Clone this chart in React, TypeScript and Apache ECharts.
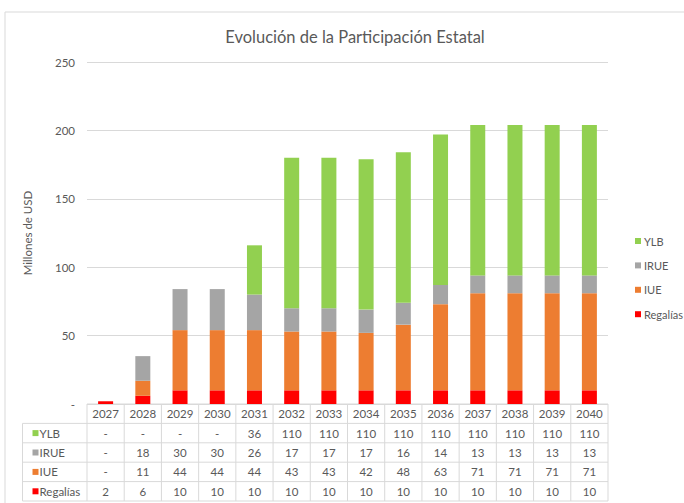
import React, { useEffect, useRef } from "react";
import * as echarts from "echarts";

const years = ["2027", "2028", "2029", "2030", "2031", "2032", "2033", "2034", "2035", "2036", "2037", "2038", "2039", "2040"];
const ylb = [0, 0, 0, 0, 36, 110, 110, 110, 110, 110, 110, 110, 110, 110];
const irue = [0, 18, 30, 30, 26, 17, 17, 17, 16, 14, 13, 13, 13, 13];
const iue = [0, 11, 44, 44, 44, 43, 43, 42, 48, 63, 71, 71, 71, 71];
const regalias = [2, 6, 10, 10, 10, 10, 10, 10, 10, 10, 10, 10, 10, 10];
const yTicks = [0, 50, 100, 150, 200, 250];

const seriesNames = ["YLB", "IRUE", "IUE", "Regalías"];
const seriesValues = [ylb, irue, iue, regalias];
const colors = ["#92d050", "#a5a5a5", "#ed7d31", "#ff0000"];

const W = 684;
const H = 503;
const gridLeft = 87;
const gridRight = 608;
const gridTop = 62;
const gridBottom = 404;
const rowH = 19.4;
const tableLeft = 22.5;
const FONT = "Lato";
const TXT = "#595959";
const LINE = "#d9d9d9";

const fmt = (v: number) => (v === 0 ? "-" : String(v));

export default function App() {
  const ref = useRef<HTMLDivElement>(null);
  useEffect(() => {
    if (!ref.current) return;
    const chart = echarts.init(ref.current, undefined, { renderer: "svg" });
    const bandW = (gridRight - gridLeft) / years.length;
    const graphics: any[] = [];
    // outer border
    graphics.push({ type: "line", shape: { x1: 5, y1: 12, x2: W, y2: 12 }, style: { stroke: LINE, lineWidth: 1 } });
    graphics.push({ type: "line", shape: { x1: 5, y1: 12, x2: 5, y2: H }, style: { stroke: LINE, lineWidth: 1 } });
    // table horizontal lines
    const tableBottom = gridBottom + rowH * 5;
    graphics.push({ type: "line", shape: { x1: gridLeft, y1: gridBottom, x2: gridRight, y2: gridBottom }, style: { stroke: LINE, lineWidth: 1 } });
    for (let r = 1; r <= 5; r++) {
      const y = gridBottom + rowH * r;
      graphics.push({ type: "line", shape: { x1: tableLeft, y1: y, x2: gridRight, y2: y }, style: { stroke: LINE, lineWidth: 1 } });
    }
    // vertical lines
    for (let i = 0; i <= years.length; i++) {
      const x = gridLeft + bandW * i;
      graphics.push({ type: "line", shape: { x1: x, y1: gridBottom, x2: x, y2: tableBottom }, style: { stroke: LINE, lineWidth: 1 } });
    }
    graphics.push({ type: "line", shape: { x1: tableLeft, y1: gridBottom + rowH, x2: tableLeft, y2: tableBottom }, style: { stroke: LINE, lineWidth: 1 } });
    // row headers
    seriesNames.forEach((n, k) => {
      const cy = gridBottom + rowH * (k + 1.5);
      graphics.push({ type: "rect", shape: { x: 32.5, y: cy - 3, width: 6, height: 6 }, style: { fill: colors[k] } });
      graphics.push({
        type: "text",
        x: 39.5,
        y: cy,
        style: { text: n, fill: TXT, font: `11.5px ${FONT}`, textVerticalAlign: "middle", textAlign: "left" },
      });
    });

    const stackOrder = [3, 2, 1, 0];
    chart.setOption({
      animation: false,
      backgroundColor: "#ffffff",
      title: {
        text: "Evolución de la Participación Estatal",
        left: 350,
        top: 23,
        textAlign: "center",
        textStyle: { fontFamily: FONT, fontSize: 16.5, fontWeight: "normal", color: TXT },
      },
      legend: {
        orient: "vertical",
        left: 630,
        top: 229,
        itemWidth: 6,
        itemHeight: 6,
        itemGap: 10.4,
        icon: "rect",
        data: seriesNames,
        textStyle: { fontFamily: FONT, fontSize: 11, color: TXT, padding: [0, 0, 0, -2], lineHeight: 14 },
      },
      grid: { left: gridLeft, right: W - gridRight, top: gridTop, bottom: H - gridBottom, containLabel: false },
      xAxis: {
        type: "category",
        data: years,
        axisLine: { show: false },
        axisTick: { show: false },
        axisLabel: {
          margin: 0,
          interval: 0,
          fontFamily: FONT,
          fontSize: 11.5,
          color: TXT,
          lineHeight: rowH,
          verticalAlign: "top",
          formatter: (val: string, idx: number) =>
            [val, fmt(ylb[idx]), fmt(irue[idx]), fmt(iue[idx]), fmt(regalias[idx])].join("\n"),
        },
      },
      yAxis: {
        type: "value",
        min: yTicks[0],
        max: yTicks[yTicks.length - 1],
        interval: 50,
        name: "Millones de USD",
        nameLocation: "middle",
        nameGap: 54,
        nameTextStyle: { fontFamily: FONT, fontSize: 11.5, color: TXT },
        axisLine: { show: false },
        axisTick: { show: false },
        axisLabel: {
          fontFamily: FONT,
          fontSize: 11.5,
          color: TXT,
          margin: 12,
          formatter: (v: number) => (v === 0 ? "-" : String(v)),
        },
        splitLine: { lineStyle: { color: LINE, width: 1 } },
      },
      series: stackOrder.map((k) => ({
        name: seriesNames[k],
        type: "bar",
        stack: "total",
        barWidth: 15,
        data: seriesValues[k],
        itemStyle: { color: colors[k] },
      })),
      graphic: graphics,
    });
    return () => chart.dispose();
  }, []);
  return <div ref={ref} style={{ position: "fixed", left: 0, top: 0, width: W, height: H }} />;
}
